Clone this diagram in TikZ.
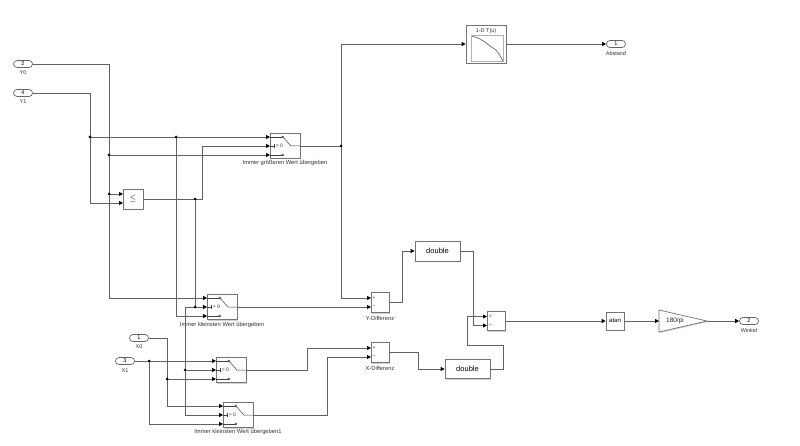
\documentclass[tikz,border=0pt]{standalone}
\usepackage{fontspec}
\setmainfont{Liberation Sans}
\usetikzlibrary{arrows.meta,shadows}
\newcommand\SwIcon[2]{%
  \begin{scope}[shift={(#1,#2)}, line width=0.5pt, black!75]
    \draw (-15,-9) -- (-3.2,-9); \draw (-2.2,-9) circle (1pt);
    \draw (-15,9) -- (-3.2,9); \draw (-2.2,9) circle (1pt);
    \draw (-15,0) -- (-11,0); \draw (-11,-2) -- (-11,2);
    \node[font=\fontsize{5}{5}\selectfont, inner sep=0pt, anchor=west, text=black!80] at (-9.5,0) {> 0};
    \draw (-1.4,-8.2) -- (6,0) -- (15,0);
  \end{scope}}
\tikzset{
  wire/.style={draw=black!62, line width=0.75pt},
  arr/.style={wire, -{Triangle[length=4pt,width=4pt,color=black]}},
  jdot/.style={circle, fill=black, inner sep=0pt, minimum size=3pt},
  blk/.style={draw=black!55, fill=white, line width=0.7pt, inner sep=0pt,
    drop shadow={shadow xshift=1pt, shadow yshift=-1pt, opacity=0.35}},
  port/.style={draw=black!60, fill=white, line width=0.7pt, rounded corners=3.5pt,
    minimum width=19pt, minimum height=7pt, inner sep=0pt, font=\fontsize{5.5}{5.5}\selectfont},
  plbl/.style={font=\fontsize{5.5}{5.5}\selectfont, text=black!80, inner sep=0pt},
  lbl/.style={font=\fontsize{5.8}{6}\selectfont, text=black!80, inner sep=0pt},
  sgn/.style={font=\fontsize{5}{5}\selectfont, inner sep=0pt, text=black!80},
}
\begin{document}
\begin{tikzpicture}[x=1pt,y=-1pt]
\fill[white] (0,0) rectangle (800,446);
\useasboundingbox (0,0) rectangle (800,446);

% ---------- ports ----------
\node[port] (Y0) at (23,64) {2};   \node[plbl] at (23,73) {Y0};
\node[port] (Y1) at (23,93) {4};   \node[plbl] at (23,102) {Y1};
\node[port] (X0) at (139,338) {1}; \node[plbl] at (139,347) {X0};
\node[port] (X1) at (125,361) {3}; \node[plbl] at (125,371) {X1};
\node[port] (Abstand) at (616,44) {1}; \node[plbl] at (616,54) {Abstand};
\node[port] (Winkel) at (749,321) {2}; \node[plbl] at (749,331) {Winkel};

% ---------- blocks ----------
\node[blk, minimum width=20pt, minimum height=20pt, font=\fontsize{8}{8}\selectfont] (le) at (133,199) {$\leq$};

\node[blk, minimum width=30pt, minimum height=25pt] (gs) at (285,146) {};
\SwIcon{285}{146}
\node[lbl] at (285,163) {Immer größeren Wert übergeben};

\node[blk, minimum width=30pt, minimum height=25pt] (ks) at (222,307) {};
\SwIcon{222}{307}
\node[lbl] at (222,325) {Immer kleinsten Wert übergeben};

\node[blk, minimum width=30pt, minimum height=25pt] (xs) at (231,370) {};
\SwIcon{231}{370}

\node[blk, minimum width=30pt, minimum height=25pt] (ks1) at (238,415) {};
\SwIcon{238}{415}
\node[lbl] at (238,432) {Immer kleinsten Wert übergeben1};

\node[blk, minimum width=40pt, minimum height=38pt] (lut) at (486,44) {};
\node[font=\fontsize{5.5}{5.5}\selectfont, inner sep=0pt, text=black!80] at (486,31) {1-D T(u)};
\draw[black!30, line width=0.4pt] (471,35) rectangle (503,61);
\draw[black!70, line width=0.55pt] plot[smooth] coordinates {(472,36) (479,38.5) (485,42) (490,46) (496,50) (499,54) (503,61)};

\node[blk, minimum width=18pt, minimum height=20pt] (yd) at (380,302.5) {};
\node[sgn] at (374,298) {+}; \node[sgn] at (374,307) {--};
\node[lbl] at (380,318) {Y-Differenz};

\node[blk, minimum width=18pt, minimum height=20pt] (xd) at (380,352.5) {};
\node[sgn] at (374,348) {+}; \node[sgn] at (374,357) {--};
\node[lbl] at (380,368) {X-Differenz};

\node[blk, minimum width=45pt, minimum height=20pt, font=\fontsize{7.5}{7.5}\selectfont] (dy) at (437.5,251) {double};
\node[blk, minimum width=45pt, minimum height=19pt, font=\fontsize{7.5}{7.5}\selectfont] (dx) at (467.5,369) {double};

\node[blk, minimum width=18pt, minimum height=19pt] (prod) at (496,321) {};
\node[sgn] at (490.5,316.5) {$\times$}; \node[sgn] at (490.5,325.5) {$\div$};

\node[blk, minimum width=18pt, minimum height=18pt, font=\fontsize{6}{6}\selectfont] (atan) at (615,321) {atan};

\filldraw[draw=black!55, fill=white, line width=0.7pt,
  drop shadow={shadow xshift=1pt, shadow yshift=-1pt, opacity=0.35}]
  (659,310) -- (707,321) -- (659,332) -- cycle;
\node[font=\fontsize{6.5}{6.5}\selectfont, inner sep=0pt, text=black!85] (gain) at (675,321) {180/pi};
\coordinate (gin) at (659,321);
\coordinate (gout) at (707,321);

% ---------- port coordinates ----------
\coordinate (le-i1) at (123,194); \coordinate (le-i2) at (123,203);
\coordinate (gs-i1) at (270,137); \coordinate (gs-i2) at (270,146); \coordinate (gs-i3) at (270,155);
\coordinate (ks-i1) at (207,298); \coordinate (ks-i2) at (207,307); \coordinate (ks-i3) at (207,316);
\coordinate (xs-i1) at (216,361); \coordinate (xs-i2) at (216,370); \coordinate (xs-i3) at (216,379);
\coordinate (ks1-i1) at (223,406); \coordinate (ks1-i2) at (223,415); \coordinate (ks1-i3) at (223,424);
\coordinate (yd-i1) at (371,298); \coordinate (yd-i2) at (371,307);
\coordinate (xd-i1) at (371,348); \coordinate (xd-i2) at (371,357);
\coordinate (pr-i1) at (487,316.5); \coordinate (pr-i2) at (487,325.5);

% ---------- junctions ----------
\coordinate (j1) at (90,137);
\coordinate (j2) at (176,137);
\coordinate (j3) at (109,155);
\coordinate (j4) at (109,194);
\coordinate (j5) at (195,199);
\coordinate (j6) at (195,307);
\coordinate (j7) at (185,370);
\coordinate (j8) at (341,146);
\coordinate (j9) at (167,379);
\coordinate (j10) at (149,361);

% ---------- wires ----------
\draw[arr] (Y0.east) -- (109,64) -- (109,298) -- (ks-i1);
\draw[arr] (Y1.east) -- (90,93) -- (90,203) -- (le-i2);
\draw[arr] (j1) -- (gs-i1);
\draw[arr] (j2) -- (176,316) -- (ks-i3);
\draw[arr] (j3) -- (gs-i3);
\draw[arr] (j4) -- (le-i1);
\draw[arr] (le.east) -- (202,199) -- (202,146) -- (gs-i2);
\draw[arr] (j5) -- (195,307) -- (ks-i2);
\draw[arr] (j6) -- (185,307) -- (185,415) -- (ks1-i2);
\draw[arr] (j7) -- (xs-i2);
\draw[wire] (gs.east) -- (j8);
\draw[arr] (j8) |- (lut.west);
\draw[arr] (j8) |- (yd-i1);
\draw[arr] (lut.east) -- (Abstand.west);
\draw[arr] (ks.east) -- (yd-i2);
\draw[arr] (yd.east) -- (402,302.5) -- (402,251) -- (dy.west);
\draw[arr] (dy.east) -- (473,251) -- (473,325.5) -- (pr-i2);
\draw[arr] (X0.east) -- (167,338) -- (167,406) -- (ks1-i1);
\draw[arr] (j9) -- (xs-i3);
\draw[arr] (X1.east) -- (xs-i1);
\draw[arr] (j10) -- (149,424) -- (ks1-i3);
\draw[arr] (xs.east) -- (307,370) -- (307,348) -- (xd-i1);
\draw[arr] (ks1.east) -- (327,415) -- (327,357) -- (xd-i2);
\draw[arr] (xd.east) -- (418,352.5) -- (418,369) -- (dx.west);
\draw[arr] (dx.east) -- (503,369) -- (503,345) -- (467,345) -- (467,316.5) -- (pr-i1);
\draw[arr] (prod.east) -- (atan.west);
\draw[arr] (atan.east) -- (gin);
\draw[arr] (gout) -- (Winkel.west);

% ---------- dots ----------
\foreach \j in {j1,j2,j3,j4,j5,j6,j7,j8,j9,j10} \node[jdot] at (\j) {};
\end{tikzpicture}
\end{document}
